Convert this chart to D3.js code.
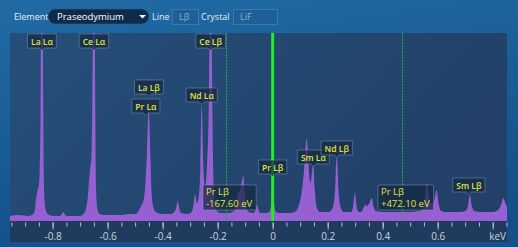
<!DOCTYPE html>
<html><head><meta charset="utf-8">
<script src="https://cdn.jsdelivr.net/npm/d3@7/dist/d3.min.js"></script>
<style>
html,body{margin:0;padding:0;overflow:hidden;background:#1a5f99;}
svg{display:block;font-family:"Open Sans","Noto Sans",sans-serif;}
</style></head><body>
<script>
// ---- data ----
const spectrum = [
 [-0.955,5],[-0.92,6],[-0.89,5],[-0.875,6],[-0.866,9],[-0.861,20],[-0.856,30],[-0.851,34],[-0.847,50],[-0.844,110],[-0.842,210],[-0.839,260],[-0.836,210],[-0.834,110],[-0.831,30],[-0.826,12],[-0.818,7],[-0.80,5],
 [-0.772,5],[-0.765,8],[-0.760,9],[-0.755,6],[-0.745,5],[-0.72,5],
 [-0.700,5],[-0.688,7],[-0.679,12],[-0.672,24],[-0.667,42],[-0.663,54],[-0.659,64],[-0.656,110],[-0.653,210],[-0.650,260],[-0.647,210],[-0.645,110],[-0.642,32],[-0.637,12],[-0.630,7],[-0.61,6],
 [-0.58,6],[-0.55,6],[-0.52,7],
 [-0.50,7],[-0.487,10],[-0.479,15],[-0.471,19],[-0.463,36],[-0.457,68],[-0.452,108],[-0.450,112],[-0.448,100],[-0.444,62],[-0.440,28],[-0.434,14],[-0.425,9],[-0.40,7],
 [-0.37,7],[-0.357,9],[-0.350,14],[-0.345,20],[-0.340,13],[-0.334,8],[-0.31,7],
 [-0.298,8],[-0.289,14],[-0.282,27],[-0.276,18],[-0.268,26],[-0.263,55],[-0.260,105],[-0.258,115],[-0.256,105],[-0.252,55],[-0.246,34],[-0.238,60],[-0.232,120],[-0.229,200],[-0.2255,250],[-0.222,200],[-0.219,110],[-0.215,40],[-0.209,15],[-0.200,9],
 [-0.19,8],[-0.16,8],[-0.140,10],[-0.132,18],[-0.126,28],[-0.120,30],[-0.113,38],[-0.107,45],[-0.102,30],[-0.096,14],[-0.088,9],
 [-0.070,8],[-0.062,11],[-0.056,16],[-0.051,11],[-0.044,8],
 [-0.020,8],[-0.010,10],[-0.005,20],[0.000,46],[0.005,20],[0.010,10],[0.020,8],
 [0.04,8],[0.06,8],
 [0.080,9],[0.093,14],[0.105,28],[0.114,50],[0.121,78],[0.124,83],[0.128,70],[0.133,45],[0.138,38],[0.145,54],[0.148,56],[0.153,32],[0.160,14],[0.172,9],
 [0.205,9],[0.219,14],[0.227,32],[0.231,60],[0.233,64],[0.235,60],[0.239,32],[0.247,14],[0.258,9],
 [0.285,9],[0.293,15],[0.299,28],[0.305,15],[0.313,9],
 [0.322,9],[0.330,13],[0.336,16],[0.343,15],[0.352,18],[0.360,23],[0.367,14],[0.376,10],
 [0.40,9],[0.45,9],[0.50,9],[0.53,10],
 [0.545,11],[0.552,20],[0.560,38],[0.567,28],[0.575,18],[0.583,18],[0.590,24],[0.596,31],[0.603,18],[0.612,10],[0.63,9],
 [0.68,9],[0.700,10],[0.709,14],[0.717,26],[0.725,14],[0.734,10],[0.76,9],
 [0.80,9],[0.820,11],[0.830,16],[0.839,23],[0.846,18],[0.852,14]
];
const peakLabels = ["La Lα","Ce Lα","Ce Lβ","La Lβ","Pr Lα","Nd Lα","Pr Lβ","Sm Lα","Nd Lβ","Sm Lβ"];
const peakEnergies = [-0.839,-0.650,-0.2255,-0.450,-0.450,-0.258,0.000,0.148,0.233,0.717];
const lineEnergy = 0;            // Pr Lβ marker (keV)
const deltaEnergies = [-0.1676, 0.4721];
const deltaTexts = [["Pr Lβ","-167.60 eV"],["Pr Lβ","+472.10 eV"]];
const majorTicks = [-0.8,-0.6,-0.4,-0.2,0,0.2,0.4,0.6,0.8];
const majorTickLabels = ["-0.8","-0.6","-0.4","-0.2","0","0.2","0.4","0.6",""];
const unitLabel = "keV";
const controls = {element:"Praseodymium", line:"Lβ", crystal:"LiF"};

// ---- layout (positions, not data) ----
const W=518,H=247;
const P={l:10,r:507,t:33,b:242,axis:221};
const labelTops=[34,34,34,80,99,88,160,150,141,178];
const labelDx=[0,0,0,0,-3,0,0,0,0,-1];
const deltaBoxes=[{x:203,y:185},{x:378,y:185}];

const svg=d3.select("body").append("svg").attr("width",W).attr("height",H);
const defs=svg.append("defs");
const bg=defs.append("linearGradient").attr("id","bg").attr("x1",0).attr("y1",0).attr("x2",0.3).attr("y2",1);
bg.append("stop").attr("offset",0).attr("stop-color","#216ba4");
bg.append("stop").attr("offset",1).attr("stop-color","#14508a");
const pg=defs.append("linearGradient").attr("id","pg").attr("x1",0).attr("y1",0).attr("x2",1).attr("y2",0.4);
pg.append("stop").attr("offset",0).attr("stop-color","#254f7a");
pg.append("stop").attr("offset",1).attr("stop-color","#224068");
defs.append("clipPath").attr("id","clip").append("rect")
  .attr("x",P.l).attr("y",P.t).attr("width",P.r-P.l).attr("height",P.axis-P.t);

svg.append("rect").attr("width",W).attr("height",H).attr("fill","url(#bg)");

// header controls
const hdr=svg.append("g").attr("font-size",9).attr("fill","#e6edf5");
hdr.append("text").attr("x",14).attr("y",20).text("Element");
hdr.append("rect").attr("x",48).attr("y",9).attr("width",101).attr("height",15).attr("rx",7.5).attr("fill","#0f2b4c").attr("stroke","#2a5f92").attr("stroke-width",0.6);
hdr.append("text").attr("x",57).attr("y",20).attr("font-size",9.5).attr("fill","#ffffff").text(controls.element);
hdr.append("path").attr("d","M139,15 L146,15 L142.5,18.5 Z").attr("fill","#ffffff");
hdr.append("text").attr("x",152).attr("y",20).text("Line");
hdr.append("rect").attr("x",172.5).attr("y",9.5).attr("width",26).attr("height",15).attr("fill","#1d5f96").attr("stroke","#3f80b8").attr("stroke-width",0.8);
hdr.append("text").attr("x",179).attr("y",20).attr("fill","#8cb0d2").text(controls.line);
hdr.append("text").attr("x",201).attr("y",20).text("Crystal");
hdr.append("rect").attr("x",233.5).attr("y",9.5).attr("width",44).attr("height",15).attr("fill","#1d5f96").attr("stroke","#3f80b8").attr("stroke-width",0.8);
hdr.append("text").attr("x",240).attr("y",20).attr("fill","#8cb0d2").text(controls.crystal);

// panel
svg.append("rect").attr("x",P.l).attr("y",P.t).attr("width",P.r-P.l).attr("height",P.b-P.t).attr("fill","url(#pg)");
svg.append("rect").attr("x",P.l).attr("y",P.axis).attr("width",P.r-P.l).attr("height",P.b-P.axis).attr("fill","#1f3b5e");

const x=d3.scaleLinear().domain([-0.955,0.852]).range([P.l,P.r]);
const y=d3.scaleLinear().domain([0,188]).range([P.axis,P.t]);

const plot=svg.append("g").attr("clip-path","url(#clip)");
plot.append("path").datum(spectrum)
  .attr("d",d3.area().x(d=>x(d[0])).y0(y(0)).y1(d=>y(d[1])).curve(d3.curveMonotoneX))
  .attr("fill","#9660d2");

// marker lines
plot.selectAll(".dl").data(deltaEnergies).join("line")
  .attr("x1",d=>x(d)).attr("x2",d=>x(d)).attr("y1",P.t).attr("y2",P.axis)
  .attr("stroke","#22a83c").attr("stroke-width",1).attr("stroke-dasharray","2,1");
plot.append("line").attr("x1",x(lineEnergy)).attr("x2",x(lineEnergy)).attr("y1",P.t).attr("y2",P.axis)
  .attr("stroke","#22ee22").attr("stroke-width",3);

// axis
const minorTicks=d3.range(-19,18).map(i=>i*0.05);
const ax1=svg.append("g").attr("transform",`translate(0,${P.axis+1.5})`)
  .call(d3.axisBottom(x).tickValues(minorTicks).tickSize(4).tickFormat(""));
const ax2=svg.append("g").attr("transform",`translate(0,${P.axis+1.5})`)
  .call(d3.axisBottom(x).tickValues(majorTicks).tickSize(7).tickPadding(3).tickFormat((d,i)=>majorTickLabels[i]));
[ax1,ax2].forEach(a=>{a.select(".domain").remove();a.selectAll("line").attr("stroke","#b9c6d4");
  a.selectAll("text").attr("fill","#c9d3de").attr("font-size",10).attr("font-family","Open Sans, sans-serif");});
svg.append("text").attr("x",506).attr("y",240).attr("text-anchor","end").attr("font-size",10).attr("fill","#c9d3de").text(unitLabel);

// callouts
const cg=svg.append("g").attr("font-size",8.5).attr("font-weight",600);
peakLabels.forEach((t,i)=>{
  const cx=x(peakEnergies[i])+labelDx[i], top=labelTops[i];
  const g=cg.append("g");
  const tx=g.append("text").attr("x",cx).attr("y",top+10.5).attr("text-anchor","middle").attr("fill","#e2e33e").text(t);
  const w=tx.node().getComputedTextLength()+7;
  g.insert("path","text").attr("d",`M${cx-w/2},${top} h${w} v14 h${-w/2+2.5} l-2.5,2.5 l-2.5,-2.5 h${-w/2+2.5} Z`)
   .attr("fill","rgba(20,40,64,0.72)").attr("stroke","rgba(140,165,195,0.55)").attr("stroke-width",0.8);
});
deltaTexts.forEach((lines,i)=>{
  const b=deltaBoxes[i];
  const g=cg.append("g").attr("font-size",9.5).attr("font-weight",500);
  const t1=g.append("text").attr("x",b.x+3).attr("y",b.y+10).attr("fill","#e2e33e").text(lines[0]);
  const t2=g.append("text").attr("x",b.x+3).attr("y",b.y+22).attr("fill","#e2e33e").text(lines[1]);
  const w=Math.max(t1.node().getComputedTextLength(),t2.node().getComputedTextLength())+7;
  g.insert("rect","text").attr("x",b.x).attr("y",b.y).attr("width",w).attr("height",25).attr("rx",1.5)
   .attr("fill","rgba(20,40,64,0.72)").attr("stroke","rgba(140,165,195,0.55)").attr("stroke-width",0.8);
});
</script>
</body></html>
